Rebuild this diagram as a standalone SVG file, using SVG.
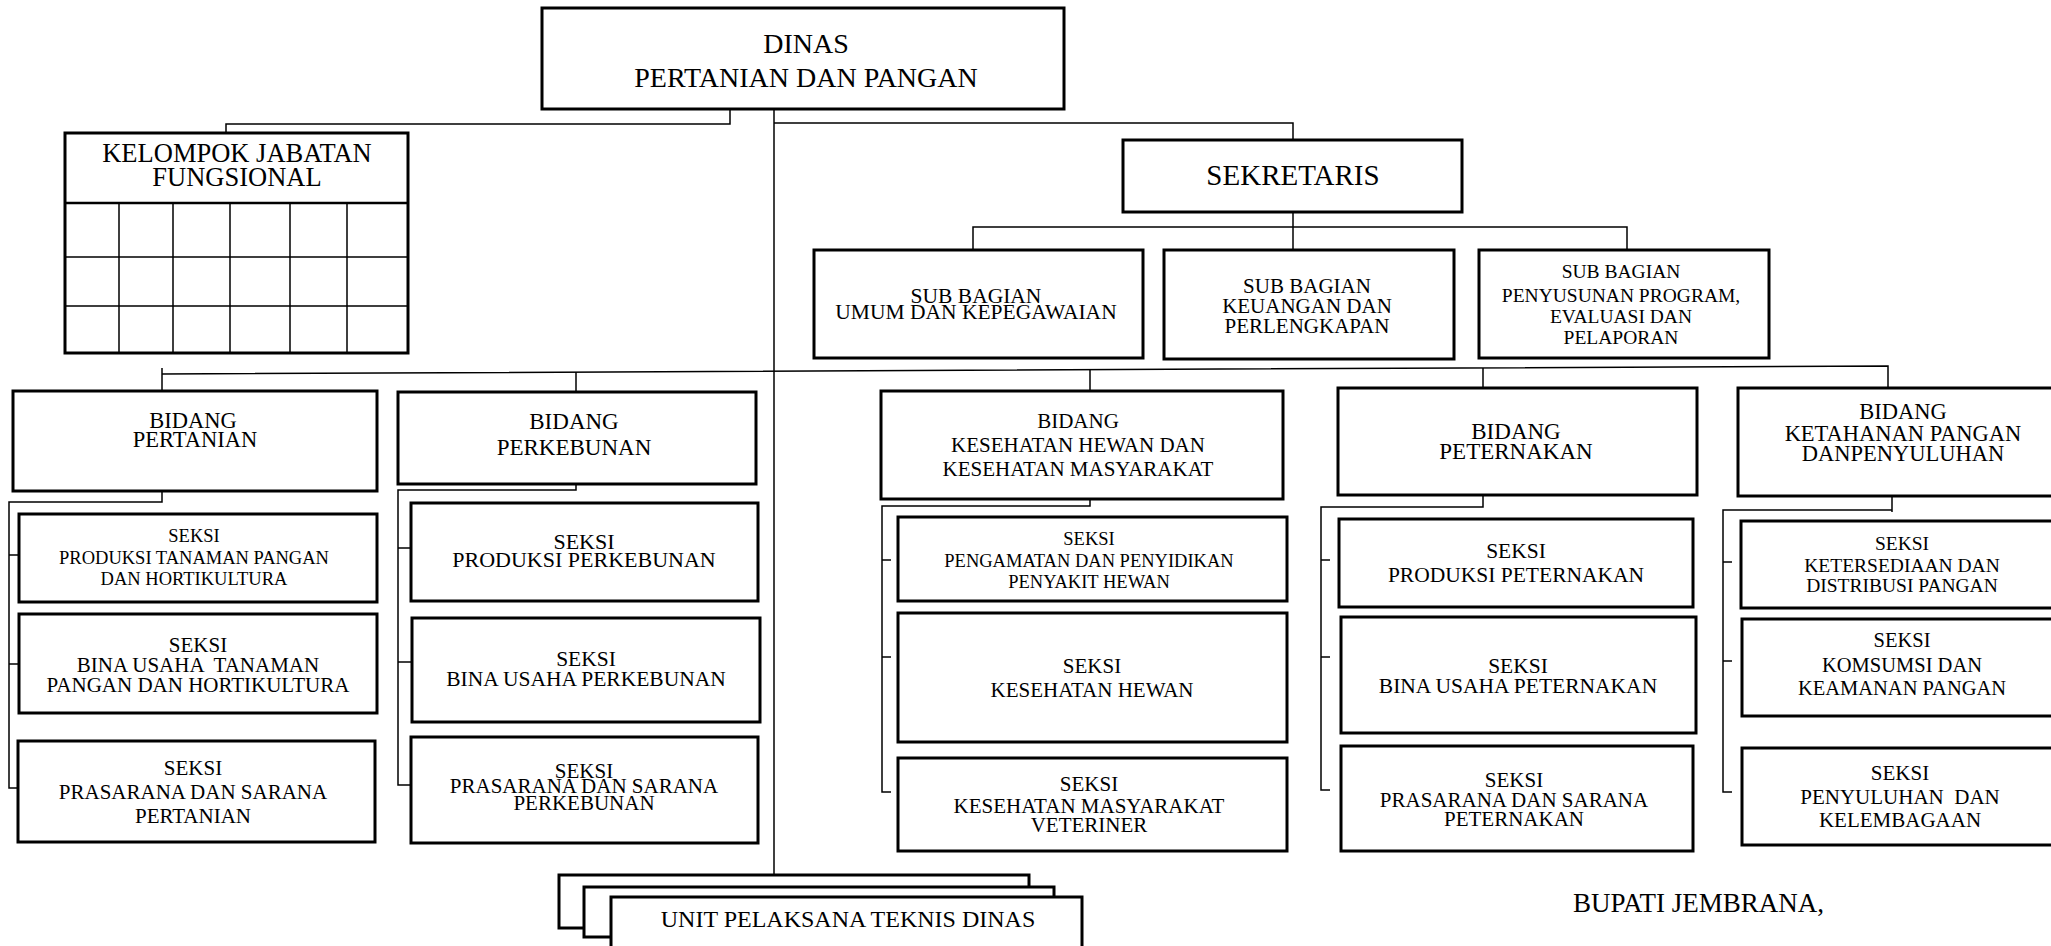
<svg xmlns="http://www.w3.org/2000/svg" width="2051" height="946" viewBox="0 0 2051 946">
<style>
.box{fill:#fff;stroke:#000;stroke-width:3}
.ln{fill:none;stroke:#000;stroke-width:1.5}
.grid{fill:none;stroke:#000;stroke-width:1.5}
text{font-family:"Liberation Serif","Times New Roman",serif;fill:#000;text-anchor:middle}
</style>
<rect width="2051" height="946" fill="#fff"/>
<g id="connectors">
<polyline class="ln" points="730,109 730,124 226,124 226,133"/>
<line class="ln" x1="774" y1="109" x2="774" y2="875"/>
<polyline class="ln" points="774,123 1293,123 1293,140"/>
<line class="ln" x1="1293" y1="212" x2="1293" y2="250"/>
<polyline class="ln" points="973,250 973,227 1627,227 1627,250"/>
<polyline class="ln" points="162,374 1888,366 1888,388"/>
<line class="ln" x1="162" y1="368" x2="162" y2="391"/>
<line class="ln" x1="576" y1="372" x2="576" y2="392"/>
<line class="ln" x1="1090" y1="370" x2="1090" y2="391"/>
<line class="ln" x1="1483" y1="368" x2="1483" y2="388"/>
<polyline class="ln" points="162,491 162,502 9,502 9,788 19,788"/>
<line class="ln" x1="9" y1="555" x2="19" y2="555"/>
<line class="ln" x1="9" y1="664" x2="19" y2="664"/>
<polyline class="ln" points="576,484 576,490 398,490 398,785 411,785"/>
<line class="ln" x1="398" y1="548" x2="411" y2="548"/>
<line class="ln" x1="398" y1="662" x2="412" y2="662"/>
<polyline class="ln" points="1090,499 1090,506 882,506 882,792 891,792"/>
<line class="ln" x1="882" y1="560" x2="891" y2="560"/>
<line class="ln" x1="882" y1="657" x2="891" y2="657"/>
<polyline class="ln" points="1483,495 1483,507 1321,507 1321,790 1330,790"/>
<line class="ln" x1="1321" y1="560" x2="1330" y2="560"/>
<line class="ln" x1="1321" y1="657" x2="1330" y2="657"/>
<polyline class="ln" points="1892,493 1892,512"/>
<polyline class="ln" points="1892,510 1723,510 1723,792 1732,792"/>
<line class="ln" x1="1723" y1="562" x2="1732" y2="562"/>
<line class="ln" x1="1723" y1="661" x2="1732" y2="661"/>
</g>
<g id="dinas"><rect class="box" x="542" y="8" width="522" height="101"/>
<text x="806" y="53" font-size="28">DINAS</text><text x="806" y="87" font-size="28">PERTANIAN DAN PANGAN</text></g>
<g id="kelompok"><rect class="box" x="65" y="133" width="343" height="220"/>
<line x1="65" y1="203" x2="408" y2="203" stroke="#000" stroke-width="2.5"/>
<path class="grid" d="M65 257H408M65 306H408M119 203V353M173 203V353M230 203V353M290 203V353M347 203V353"/>
<text x="237" y="162" font-size="26.5">KELOMPOK JABATAN</text><text x="237" y="186" font-size="26.5">FUNGSIONAL</text></g>
<g id="sekretaris"><rect class="box" x="1123" y="140" width="339" height="72"/>
<text x="1293" y="185" font-size="29">SEKRETARIS</text></g>
<g id="subbag-umum"><rect class="box" x="814" y="250" width="329" height="108"/>
<text x="976" y="303" font-size="21.5">SUB BAGIAN</text><text x="976" y="319" font-size="21.5">UMUM DAN KEPEGAWAIAN</text></g>
<g id="subbag-keuangan"><rect class="box" x="1164" y="250" width="290" height="109"/>
<text x="1307" y="293" font-size="21">SUB BAGIAN</text><text x="1307" y="313" font-size="21">KEUANGAN DAN</text><text x="1307" y="333" font-size="21">PERLENGKAPAN</text></g>
<g id="subbag-program"><rect class="box" x="1479" y="250" width="290" height="108"/>
<text x="1621" y="278" font-size="19.5">SUB BAGIAN</text><text x="1621" y="302" font-size="19.5">PENYUSUNAN PROGRAM,</text><text x="1621" y="323" font-size="19.5">EVALUASI DAN</text><text x="1621" y="344" font-size="19.5">PELAPORAN</text></g>
<g id="bidang-pertanian"><rect class="box" x="13" y="391" width="364" height="100"/>
<text x="193" y="428" font-size="22.5">BIDANG</text><text x="195" y="447" font-size="22.5">PERTANIAN</text></g>
<g id="bidang-perkebunan"><rect class="box" x="398" y="392" width="358" height="92"/>
<text x="574" y="429" font-size="23">BIDANG</text><text x="574" y="455" font-size="23">PERKEBUNAN</text></g>
<g id="bidang-keswan"><rect class="box" x="881" y="391" width="402" height="108"/>
<text x="1078" y="428" font-size="21">BIDANG</text><text x="1078" y="452" font-size="21">KESEHATAN HEWAN DAN</text><text x="1078" y="476" font-size="21">KESEHATAN MASYARAKAT</text></g>
<g id="bidang-peternakan"><rect class="box" x="1338" y="388" width="359" height="107"/>
<text x="1516" y="439" font-size="23">BIDANG</text><text x="1516" y="459" font-size="23">PETERNAKAN</text></g>
<g id="bidang-ketahanan"><rect class="box" x="1738" y="388" width="330" height="108"/>
<text x="1903" y="419" font-size="22.5">BIDANG</text><text x="1903" y="441" font-size="22.5">KETAHANAN PANGAN</text><text x="1903" y="461" font-size="22.5">DANPENYULUHAN</text></g>
<g id="seksi-produksi-tph"><rect class="box" x="19" y="514" width="358" height="88"/>
<text x="194" y="542" font-size="18.5">SEKSI</text><text x="194" y="564" font-size="18.5">PRODUKSI TANAMAN PANGAN</text><text x="194" y="585" font-size="18.5">DAN HORTIKULTURA</text></g>
<g id="seksi-binausaha-tph"><rect class="box" x="19" y="614" width="358" height="99"/>
<text x="198" y="652" font-size="21">SEKSI</text><text x="198" y="672" font-size="21" xml:space="preserve">BINA USAHA  TANAMAN</text><text x="198" y="692" font-size="21">PANGAN DAN HORTIKULTURA</text></g>
<g id="seksi-prasarana-pertanian"><rect class="box" x="18" y="741" width="357" height="101"/>
<text x="193" y="775" font-size="21">SEKSI</text><text x="193" y="799" font-size="21">PRASARANA DAN SARANA</text><text x="193" y="823" font-size="21">PERTANIAN</text></g>
<g id="seksi-produksi-perkebunan"><rect class="box" x="411" y="503" width="347" height="98"/>
<text x="584" y="549" font-size="22">SEKSI</text><text x="584" y="567" font-size="22">PRODUKSI PERKEBUNAN</text></g>
<g id="seksi-binausaha-perkebunan"><rect class="box" x="412" y="618" width="348" height="104"/>
<text x="586" y="666" font-size="21.5">SEKSI</text><text x="586" y="686" font-size="21.5">BINA USAHA PERKEBUNAN</text></g>
<g id="seksi-prasarana-perkebunan"><rect class="box" x="411" y="737" width="347" height="106"/>
<text x="584" y="778" font-size="21">SEKSI</text><text x="584" y="793" font-size="21">PRASARANA DAN SARANA</text><text x="584" y="810" font-size="21">PERKEBUNAN</text></g>
<g id="seksi-pengamatan"><rect class="box" x="898" y="517" width="389" height="84"/>
<text x="1089" y="545" font-size="18.5">SEKSI</text><text x="1089" y="567" font-size="18.5">PENGAMATAN DAN PENYIDIKAN</text><text x="1089" y="588" font-size="18.5">PENYAKIT HEWAN</text></g>
<g id="seksi-keswan"><rect class="box" x="898" y="613" width="389" height="129"/>
<text x="1092" y="673" font-size="21">SEKSI</text><text x="1092" y="697" font-size="21">KESEHATAN HEWAN</text></g>
<g id="seksi-kesmavet"><rect class="box" x="898" y="758" width="389" height="93"/>
<text x="1089" y="791" font-size="21">SEKSI</text><text x="1089" y="813" font-size="21">KESEHATAN MASYARAKAT</text><text x="1089" y="832" font-size="21">VETERINER</text></g>
<g id="seksi-produksi-peternakan"><rect class="box" x="1339" y="519" width="354" height="88"/>
<text x="1516" y="558" font-size="21.5">SEKSI</text><text x="1516" y="582" font-size="21.5">PRODUKSI PETERNAKAN</text></g>
<g id="seksi-binausaha-peternakan"><rect class="box" x="1341" y="617" width="355" height="116"/>
<text x="1518" y="673" font-size="21.5">SEKSI</text><text x="1518" y="693" font-size="21.5">BINA USAHA PETERNAKAN</text></g>
<g id="seksi-prasarana-peternakan"><rect class="box" x="1341" y="746" width="352" height="105"/>
<text x="1514" y="787" font-size="21">SEKSI</text><text x="1514" y="807" font-size="21">PRASARANA DAN SARANA</text><text x="1514" y="826" font-size="21">PETERNAKAN</text></g>
<g id="seksi-ketersediaan"><rect class="box" x="1741" y="521" width="330" height="87"/>
<text x="1902" y="550" font-size="19.5">SEKSI</text><text x="1902" y="572" font-size="19.5">KETERSEDIAAN DAN</text><text x="1902" y="592" font-size="19.5">DISTRIBUSI PANGAN</text></g>
<g id="seksi-konsumsi"><rect class="box" x="1742" y="619" width="330" height="97"/>
<text x="1902" y="647" font-size="20.5">SEKSI</text><text x="1902" y="672" font-size="20.5">KOMSUMSI DAN</text><text x="1902" y="695" font-size="20.5">KEAMANAN PANGAN</text></g>
<g id="seksi-penyuluhan"><rect class="box" x="1742" y="748" width="330" height="97"/>
<text x="1900" y="780" font-size="21">SEKSI</text><text x="1900" y="804" font-size="21" xml:space="preserve">PENYULUHAN  DAN</text><text x="1900" y="827" font-size="21">KELEMBAGAAN</text></g>
<g id="upt">
<rect class="box" x="559" y="875" width="470" height="53"/>
<rect class="box" x="584" y="887" width="470" height="50"/>
<rect class="box" x="611" y="897" width="471" height="70"/>
<text x="848" y="927" font-size="24">UNIT PELAKSANA TEKNIS DINAS</text></g>
<g id="bupati"><text x="1573" y="912" font-size="27" style="text-anchor:start">BUPATI JEMBRANA,</text></g>
</svg>
